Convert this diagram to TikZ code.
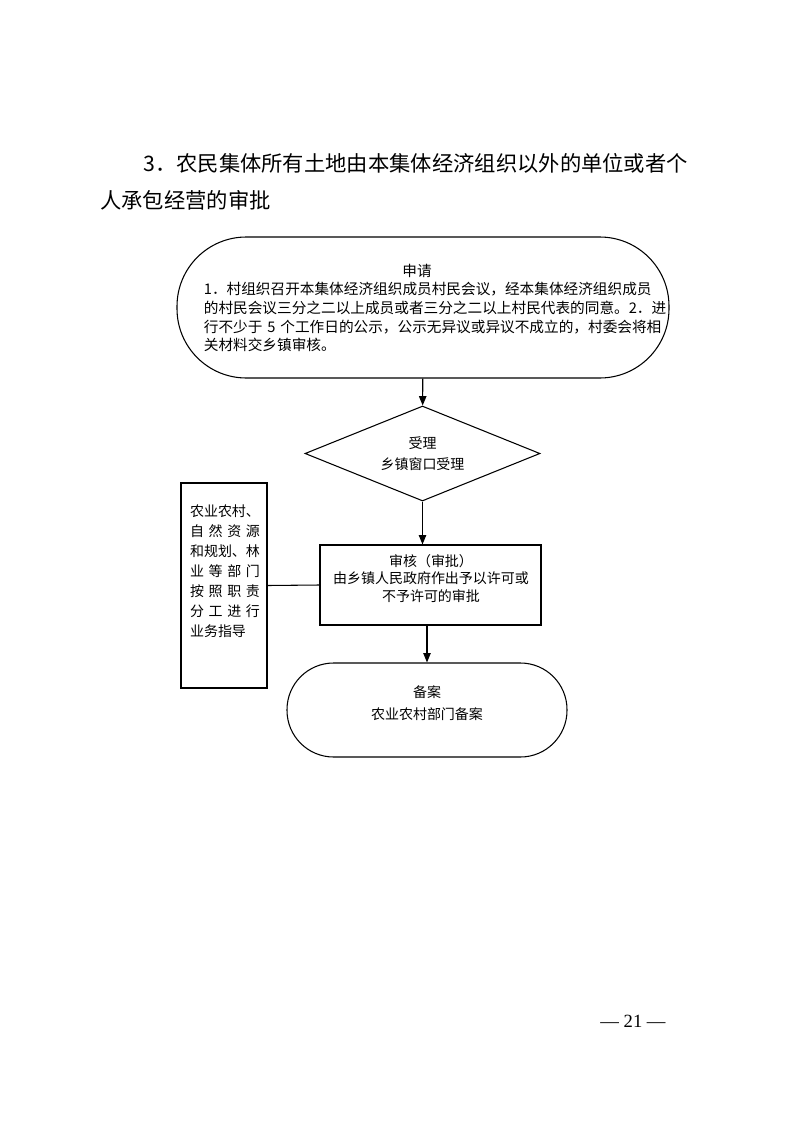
\documentclass[tikz,border=0pt]{standalone}
\usepackage{fontspec}
\setmainfont{Noto Sans CJK SC}
\newfontfamily\pagefont{Liberation Serif}
\usetikzlibrary{arrows.meta,shapes.geometric}
\newcommand\unitpx{0.7507pt}

\begin{document}
\begin{tikzpicture}[
        x=\unitpx, y=-\unitpx,
        every node/.style={font=\fontsize{10.5}{14}\selectfont, inner sep=0pt},
        stadium/.style={draw, line width=0.8pt, rounded corners=#1},
        stepbox/.style={draw, line width=0.8pt, rectangle},
        gate/.style={draw, line width=0.8pt, diamond, aspect=2.47},
        flow/.style={-{Triangle[length=7pt,width=5.5pt]}, line width=0.8pt},
        heading/.style={anchor=west, font=\fontsize{16}{20}\selectfont}
    ]
        \path[fill=white, use as bounding box] (0,0) rectangle (793,1122);

        % title
        \node (title1) at (143,163) [heading] {3．农民集体所有土地由本集体经济组织以外的单位或者个};
        \node (title2) at (100,200) [heading] {人承包经营的审批};

        % flow
        \node (apply) at (423,307.5) [stadium=52pt, minimum width=492*\unitpx, minimum height=141*\unitpx] {};
        \node (applytext) at (437,308) [text width=350pt, align=left, font=\fontsize{11}{14}\selectfont] {\makebox[\linewidth]{申请\hspace{30pt}}\\
            1．村组织召开本集体经济组织成员村民会议，经本集体经济组织成员\\
            的村民会议三分之二以上成员或者三分之二以上村民代表的同意。2．进\\
            行不少于 5 个工作日的公示，公示无异议或异议不成立的，村委会将相\\
            关材料交乡镇审核。};
        \node (accept) at (422.5,453.5) [gate, minimum width=235*\unitpx, minimum height=95*\unitpx, align=center, font=\fontsize{10.5}{15.75}\selectfont] {受理\\乡镇窗口受理};
        \node (review) at (430.5,585) [stepbox, minimum width=221*\unitpx, minimum height=80*\unitpx] {};
        \node (reviewtext) at (431,578.5) [align=center, font=\fontsize{10.5}{13}\selectfont] {审核（审批）\\由乡镇人民政府作出予以许可或\\不予许可的审批};
        \node (guide) at (224,585.5) [stepbox, minimum width=86*\unitpx, minimum height=205*\unitpx] {};
        \node (guidetext) at (225,571) [align=left, font=\fontsize{10.5}{15}\selectfont] {农业农村、\\
            \makebox[5em][s]{自\hfil 然\hfil 资\hfil 源}\\
            和规划、林\\
            \makebox[5em][s]{业\hfil 等\hfil 部\hfil 门}\\
            \makebox[5em][s]{按\hfil 照\hfil 职\hfil 责}\\
            \makebox[5em][s]{分\hfil 工\hfil 进\hfil 行}\\
            业务指导};
        \node (filing) at (427,710) [stadium=35pt, minimum width=280*\unitpx, minimum height=94*\unitpx] {};
        \node (filingtext) at (427,703) [align=center, font=\fontsize{10.5}{16.5}\selectfont] {备案\\农业农村部门备案};

        \draw[flow] (apply) -- (accept);
        \draw[flow] (accept.south) -- (accept.south |- review.north);
        \draw[flow] (review.south -| filing.north) -- (filing.north);
        \draw[line width=0.8pt] (guide.east) -- (review.west);

        % page number
        \node (pageno) at (633,1021) [font=\pagefont\fontsize{14}{16}\selectfont] {—\ 21\ —};
    \end{tikzpicture}
\end{document}
